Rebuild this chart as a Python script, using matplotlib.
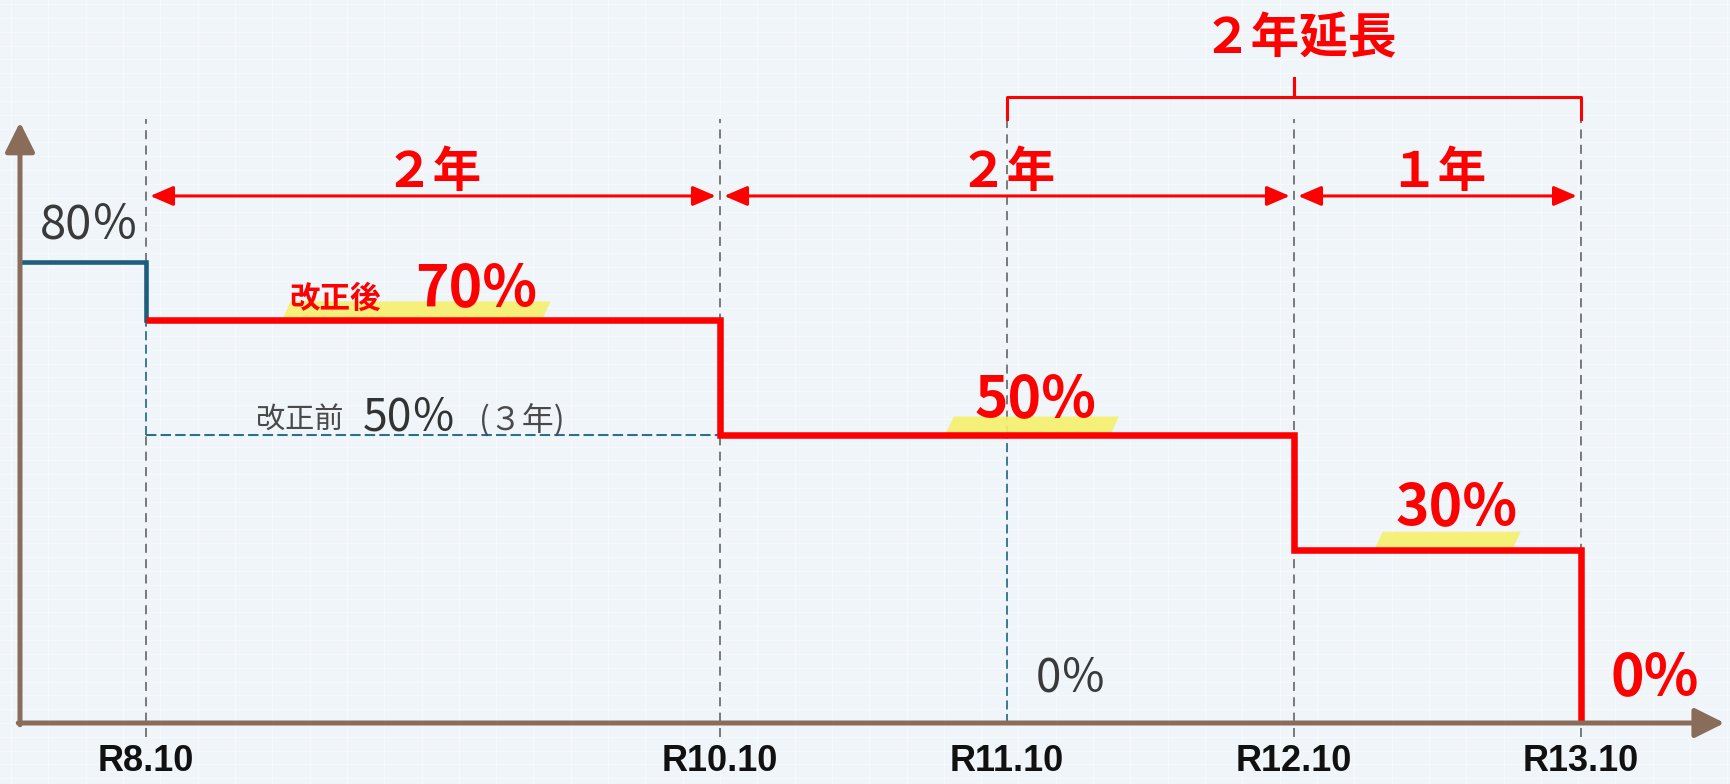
import matplotlib
matplotlib.use("Agg")
import matplotlib.pyplot as plt
from matplotlib.patches import Polygon
import numpy as np

plt.rcParams['font.family'] = ['Noto Sans CJK JP', 'DejaVu Sans']

# ---- data ----
tick_labels = ["R8.10", "R10.10", "R11.10", "R12.10", "R13.10"]
tick_years = [8, 10, 11, 12, 13]
initial_rate = 80                      # rate before R8.10
revised_edges = [8, 10, 12, 13]        # step boundaries after revision
revised_rates = [70, 50, 30, 0]        # 改正後
old_rate = 50                          # 改正前 50%（3年）
old_end = 11
span_edges = [8, 10, 12, 13]
span_labels = ["２年", "２年", "１年"]
extension_label = "２年延長"
extension_span = [11, 13]

# ---- style ----
RED = "#ff0000"
BLUE = "#1d5d7e"
TEAL = "#2e6f8e"
BROWN = "#8a6c5b"
GRAY = "#6f6f6f"
BG = "#eff5f9"
YEL = "#f5f06c"

fig = plt.figure(figsize=(17.3, 7.84), dpi=100, facecolor=BG)
ax = fig.add_axes([0, 0, 1, 1])
ax.set_facecolor(BG)
PXY = 287.0   # pixels per year
PXV = 5.76    # pixels per percent
ax.set_xlim(8 - 146 / PXY, 8 + (1730 - 146) / PXY)
ax.set_ylim(-(784 - 723) / PXV, 723 / PXV)
ax.axis("off")

x_axis0 = 8 - 126 / PXY
x_tip = 13.5
y_top = 104.3
grid_top = 104.9
grid_bot = -2.4

# faint background grid
for gx in np.arange(7.4, 13.6, 0.13):
    ax.axvline(gx, color="#f6f9fc", lw=0.8, zorder=0)
for gy in np.arange(-12, 130, 2.4):
    ax.axhline(gy, color="#f6f9fc", lw=0.8, zorder=0)

# vertical dashed guide lines
for yr in tick_years:
    if yr == old_end:
        ax.plot([yr, yr], [old_rate, grid_top], color=GRAY, lw=1.3, dashes=(5, 3.5), zorder=1)
        ax.plot([yr, yr], [0, old_rate], color=TEAL, lw=1.3, dashes=(5, 2.5), zorder=1)
    elif yr == revised_edges[0]:
        ax.plot([yr, yr], [initial_rate, grid_top], color=GRAY, lw=1.3, dashes=(5, 3.5), zorder=1)
        ax.plot([yr, yr], [old_rate, revised_rates[0]], color=TEAL, lw=1.3, dashes=(5, 2.5), zorder=1)
        ax.plot([yr, yr], [grid_bot, old_rate], color=GRAY, lw=1.3, dashes=(5, 3.5), zorder=1)
    else:
        ax.plot([yr, yr], [grid_bot, grid_top], color=GRAY, lw=1.3, dashes=(5, 3.5), zorder=1)

# old schedule (改正前)
ax.plot([revised_edges[0], old_end], [old_rate, old_rate], color=TEAL, lw=1.5,
        dashes=(5, 2), zorder=2)

# highlights
def highlight(x0, x1, y0, h=3.2, skew=0.03):
    poly = Polygon([(x0, y0), (x1, y0), (x1 + skew, y0 + h), (x0 + skew, y0 + h)],
                   closed=True, facecolor=YEL, edgecolor="none", zorder=2, alpha=0.9)
    ax.add_patch(poly)

highlight(8.474, 9.38, revised_rates[0])
highlight(10.784, 11.36, revised_rates[1])
highlight(12.279, 12.76, revised_rates[2])

# initial blue step
ax.plot([x_axis0, revised_edges[0], revised_edges[0]],
        [initial_rate, initial_rate, revised_rates[0]],
        color=BLUE, lw=3.3, solid_joinstyle="miter", zorder=4)

# revised red step line
sx = [revised_edges[0]]
sy = [revised_rates[0]]
for i in range(1, len(revised_edges)):
    sx += [revised_edges[i], revised_edges[i]]
    sy += [revised_rates[i - 1], revised_rates[i]]
ax.plot(sx, sy, color=RED, lw=4.7, solid_joinstyle="miter", solid_capstyle="butt", zorder=5)

# axes arrows
arrow_kw = dict(arrowstyle="-|>,head_length=0.9,head_width=0.45", lw=3.6, color=BROWN,
                mutation_scale=20, shrinkA=0, shrinkB=0)
ax.annotate("", xy=(x_tip, 0), xytext=(x_axis0 - 0.006, 0), arrowprops=arrow_kw, zorder=6)
ax.annotate("", xy=(x_axis0, y_top), xytext=(x_axis0, -0.3), arrowprops=arrow_kw, zorder=6)

# span arrows and labels
for a, b, lab in zip(span_edges[:-1], span_edges[1:], span_labels):
    ax.annotate("", xy=(b, 91.5), xytext=(a, 91.5),
                arrowprops=dict(arrowstyle="<|-|>,head_length=0.7,head_width=0.3", lw=2.2,
                                color=RED, mutation_scale=20, shrinkA=3, shrinkB=3), zorder=6)
    ax.text((a + b) / 2, 95.6, lab, color=RED, fontsize=35, fontweight="bold",
            ha="center", va="center", zorder=7)

# extension bracket
e0, e1 = extension_span
em = (e0 + e1) / 2
ax.plot([e0, e0, em, em, em, e1, e1], [104.9, 108.7, 108.7, 112.0, 108.7, 108.7, 104.9],
        color=RED, lw=2.2, solid_joinstyle="round", zorder=6)
ax.text(em + 0.02, 118.8, extension_label, color=RED, fontsize=35, fontweight="bold",
        ha="center", va="center")

# labels
ax.text(7.805, initial_rate + 6.5, "80％", color="#3a3a3a", fontsize=34, ha="center", va="center")
ax.text(8.66, revised_rates[0] + 3.7, "改正後", color=RED, fontsize=22, fontweight="bold",
        ha="center", va="center", zorder=7)
ax.text(9.15, revised_rates[0] + 5.3, "70%", color=RED, fontsize=41, fontweight="bold",
        ha="center", va="center", zorder=7)
ax.text(8.537, old_rate + 2.6, "改正前", color="#4a4a4a", fontsize=21, ha="center", va="center")
ax.text(8.92, old_rate + 3.0, f"{old_rate}％", color="#333333", fontsize=32,
        ha="center", va="center")
ax.text(9.31, old_rate + 2.4, "(３年)", color="#4a4a4a", fontsize=23, ha="center", va="center")
ax.text(11.098, revised_rates[1] + 6.0, f"{revised_rates[1]}%", color=RED, fontsize=41,
        fontweight="bold", ha="center", va="center", zorder=7)
ax.text(12.568, revised_rates[2] + 7.3, f"{revised_rates[2]}%", color=RED, fontsize=41,
        fontweight="bold", ha="center", va="center", zorder=7)
ax.text(13.258, revised_rates[3] + 7.8, f"{revised_rates[3]}%", color=RED, fontsize=41,
        fontweight="bold", ha="center", va="center", zorder=7)
ax.text(11.223, 7.8, "0％", color="#3a3a3a", fontsize=33, ha="center", va="center")

# tick labels
for yr, lab in zip(tick_years, tick_labels):
    ax.text(yr, -6.7, lab, color="#111111", fontsize=26, fontweight="bold",
            family=["Liberation Sans Narrow", "Liberation Sans", "DejaVu Sans"],
            ha="center", va="center")

fig.savefig("out.png", dpi=100, facecolor=BG)
